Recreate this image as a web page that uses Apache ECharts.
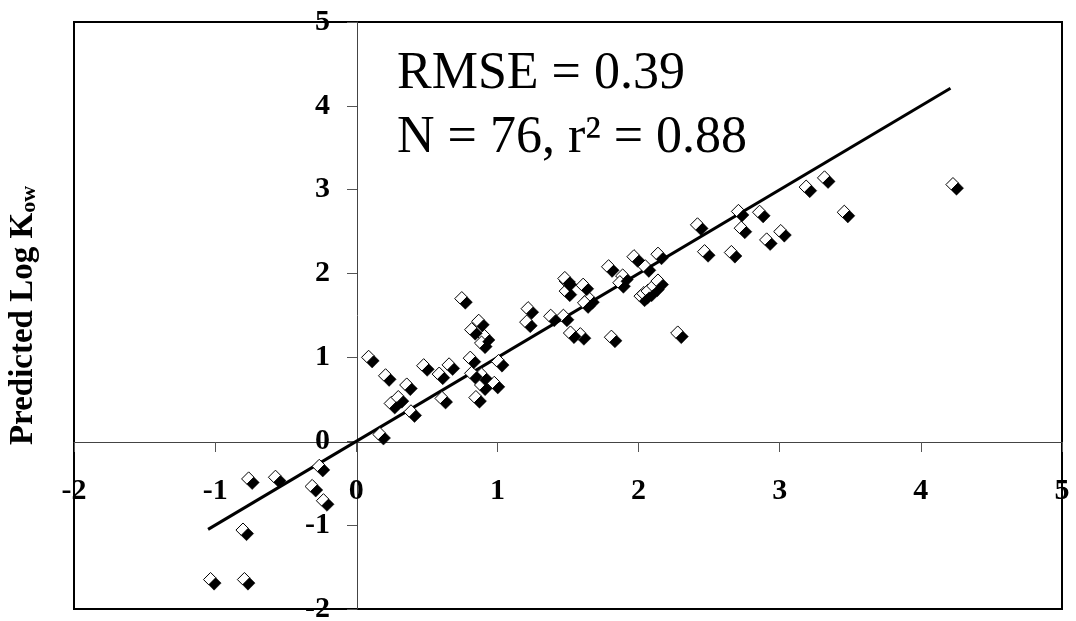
<!DOCTYPE html>
<html>
<head>
<meta charset="utf-8">
<script src="https://cdn.jsdelivr.net/npm/echarts@6/dist/echarts.min.js"></script>
<style>
html,body{margin:0;padding:0;background:#fff;}
#chart{width:1076px;height:621px;}
</style>
</head>
<body>
<div id="chart"></div>
<script>
// ---- data ----
const xAxisRange = [-2, 5];
const yAxisRange = [-2, 5];
const tickStep = 1;

const observedLogKow = [-1.02,-0.78,-0.79,-0.75,-0.56,-0.30,-0.22,-0.25,0.10,0.22,
  0.18,0.26,0.31,0.37,0.40,0.49,0.60,0.67,0.62,0.76,
  0.88,0.83,0.92,0.90,0.82,0.83,0.90,0.90,0.86,0.99,
  1.02,1.23,1.22,1.39,1.48,1.50,1.49,1.50,1.62,1.66,
  1.63,1.53,1.60,1.82,1.80,1.90,1.88,1.98,2.06,2.15,
  2.03,2.05,2.08,2.12,2.15,2.29,2.43,2.48,2.67,2.72,
  2.87,2.74,2.92,3.02,3.20,3.33,3.47,4.24];
const predictedLogKow = [-1.67,-1.67,-1.08,-0.47,-0.45,-0.56,-0.73,-0.32,0.98,0.76,
  0.06,0.43,0.50,0.65,0.33,0.88,0.78,0.89,0.49,1.68,
  1.41,1.31,1.23,1.15,0.97,0.79,0.77,0.65,0.50,0.67,
  0.93,1.56,1.40,1.47,1.47,1.89,1.92,1.77,1.84,1.68,
  1.63,1.27,1.25,1.22,2.06,1.95,1.87,2.18,2.06,2.21,
  1.71,1.74,1.77,1.83,1.89,1.27,2.56,2.24,2.23,2.72,
  2.71,2.52,2.38,2.48,3.01,3.12,2.71,3.04];

const fitLineX = [-1.05, 4.21];
const fitLineY = [-1.05, 4.21];

const annotationLines = ['RMSE = 0.39', 'N = 76, r\u00B2 = 0.88'];
const yAxisTitle = 'Predicted Log K{sub|ow}';

// ---- build ----
const points = observedLogKow.map((x, i) => [x, predictedLogKow[i]]);
const fitPoints = fitLineX.map((x, i) => [x, fitLineY[i]]);

// half of the Excel-style two-tone diamond marker (a 45deg-rotated block)
const halfMarker = 'path://M0,7.07 L7.07,0 L12.38,5.31 L5.31,12.38 Z';
const serif = '"Liberation Serif","Times New Roman",serif';

const axisCommon = {
  type: 'value',
  interval: tickStep,
  axisLine: { onZero: false, lineStyle: { color: '#444', width: 1 } },
  axisTick: { show: true, inside: false, length: 10, lineStyle: { color: '#555', width: 1 } },
  splitLine: { show: false },
  axisLabel: {
    fontFamily: serif, fontWeight: 'bold', fontSize: 30, color: '#000',
    showMinLabel: true, showMaxLabel: true, hideOverlap: false
  }
};

const chart = echarts.init(document.getElementById('chart'), null, { renderer: 'canvas' });
chart.setOption({
  animation: false,
  backgroundColor: '#fff',
  grid: {
    left: 74, right: 14, top: 22, bottom: 12,
    containLabel: false, outerBoundsMode: 'none',
    show: true, borderColor: '#000', borderWidth: 2, backgroundColor: 'transparent'
  },
  xAxis: Object.assign({}, axisCommon, {
    min: xAxisRange[0], max: xAxisRange[1],
    position: 'bottom',
    offset: -167,   // axis drawn through y = 0 (as in the original, axes cross at the origin)
    axisLabel: Object.assign({}, axisCommon.axisLabel, { margin: 34 })
  }),
  yAxis: Object.assign({}, axisCommon, {
    min: yAxisRange[0], max: yAxisRange[1],
    position: 'left',
    offset: -283,   // axis drawn through x = 0
    axisLabel: Object.assign({}, axisCommon.axisLabel, { margin: 27 }),
    name: yAxisTitle,
    nameLocation: 'middle',
    nameRotate: 90,
    nameGap: 317,
    nameTextStyle: {
      fontFamily: serif, fontWeight: 'bold', fontSize: 33, color: '#000',
      rich: { sub: { fontFamily: serif, fontWeight: 'bold', fontSize: 22, color: '#000', verticalAlign: 'bottom' } }
    }
  }),
  series: [
    {
      type: 'line', data: fitPoints, showSymbol: false, symbol: 'none',
      lineStyle: { color: '#000', width: 3 }, z: 2, silent: true
    },
    {
      type: 'scatter', data: points, symbol: halfMarker, symbolSize: 12.4,
      symbolOffset: [-2.65, -2.65],
      itemStyle: { color: '#fff', borderColor: '#000', borderWidth: 1, opacity: 1 }, z: 3
    },
    {
      type: 'scatter', data: points, symbol: halfMarker, symbolSize: 12.4,
      symbolOffset: [2.65, 2.65],
      itemStyle: { color: '#000', borderColor: '#000', borderWidth: 0.5, opacity: 1 }, z: 4
    }
  ],
  graphic: [
    {
      type: 'text', x: 397, y: 74, z: 10,
      style: {
        text: annotationLines[0], font: '52px ' + serif, fill: '#000',
        textAlign: 'left', textVerticalAlign: 'middle', align: 'left', verticalAlign: 'middle'
      }
    },
    {
      type: 'text', x: 397, y: 138, z: 10,
      style: {
        text: annotationLines[1], font: '52px ' + serif, fill: '#000',
        textAlign: 'left', textVerticalAlign: 'middle', align: 'left', verticalAlign: 'middle'
      }
    }
  ]
});
</script>
</body>
</html>
